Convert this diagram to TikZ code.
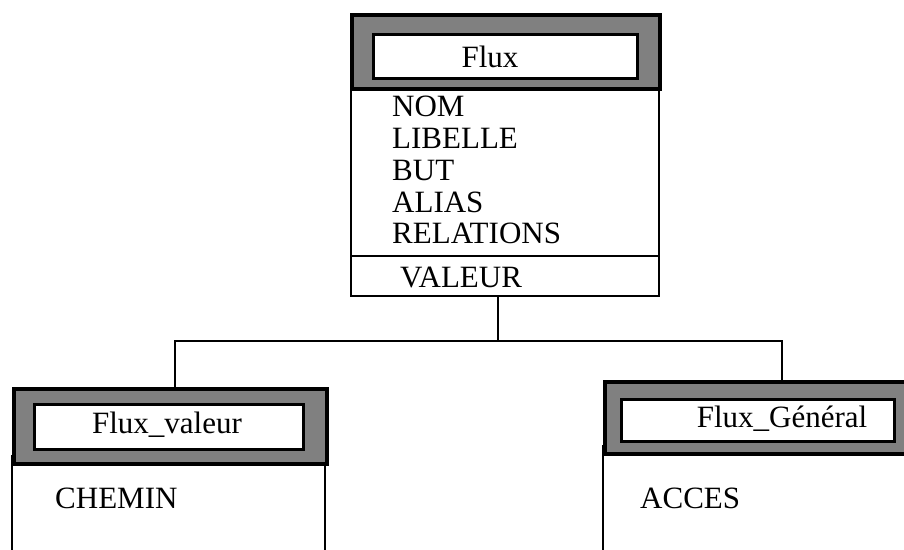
\documentclass[tikz,border=0pt]{standalone}
\usepackage{fontspec}
\setmainfont{Liberation Serif}
\begin{document}
\begin{tikzpicture}[x=1pt,y=-1pt,
  band/.style={draw=black, line width=3.5pt, fill=black!50, inner sep=0pt, anchor=north west},
  titlebox/.style={draw=black, line width=2.5pt, fill=white, inner sep=0pt, anchor=north west},
  body/.style={draw=black, line width=1.8pt},
  conn/.style={draw=black, line width=1.8pt},
  lbl/.style={font=\fontsize{31}{33}\selectfont, inner sep=0pt}]
\useasboundingbox (0,0) rectangle (904,549);
\clip (0,0) rectangle (904,549);

% Top class box
\node[body, minimum width=308pt, minimum height=282pt, inner sep=0pt, anchor=north west] (flux) at (350,13) {};
\draw[body] (flux.west |- 0,256) -- (flux.east |- 0,256);
\node[band, minimum width=308pt, minimum height=74pt] (fluxband) at (350,13) {};
\node[titlebox, minimum width=264pt, minimum height=44pt] (fluxtitle) at (372,33) {};
\node[lbl, anchor=base] (fluxlbl) at (490,67) {Flux};
\node[lbl, anchor=base west] (a1) at (392,116) {NOM};
\node[lbl, anchor=base west] (a2) at (392,148) {LIBELLE};
\node[lbl, anchor=base west] (a3) at (392,180) {BUT};
\node[lbl, anchor=base west] (a4) at (392,212) {ALIAS};
\node[lbl, anchor=base west] (a5) at (392,243) {RELATIONS};
\node[lbl, anchor=base west] (m1) at (400,287) {VALEUR};

% Left sub-class box
\draw[body] (12,455) -- (12,560);
\draw[body] (325,455) -- (325,560);
\node[band, minimum width=313pt, minimum height=75pt] (fv) at (12,387) {};
\node[titlebox, minimum width=269pt, minimum height=45pt] (fvtitle) at (33,403) {};
\node[lbl, anchor=base] (fvlbl) at (167,433) {Flux\_valeur};
\node[lbl, anchor=base west] (b1) at (55,508) {CHEMIN};

% Right sub-class box
\draw[body] (603,445) -- (603,560);
\node[band, minimum width=310pt, minimum height=72pt] (fg) at (603,380) {};
\node[titlebox, minimum width=273pt, minimum height=42pt] (fgtitle) at (620,398) {};
\node[lbl, anchor=base] (fglbl) at (782,427) {Flux\_Général};
\node[lbl, anchor=base west] (c1) at (640,508) {ACCES};

% Connectors
\draw[conn] ([xshift=-7pt]flux.south) -- ++(0,44) coordinate (j);
\draw[conn] ([xshift=4.5pt]fv.north) |- (j) -| ([xshift=22pt]fg.north);
\end{tikzpicture}
\end{document}
